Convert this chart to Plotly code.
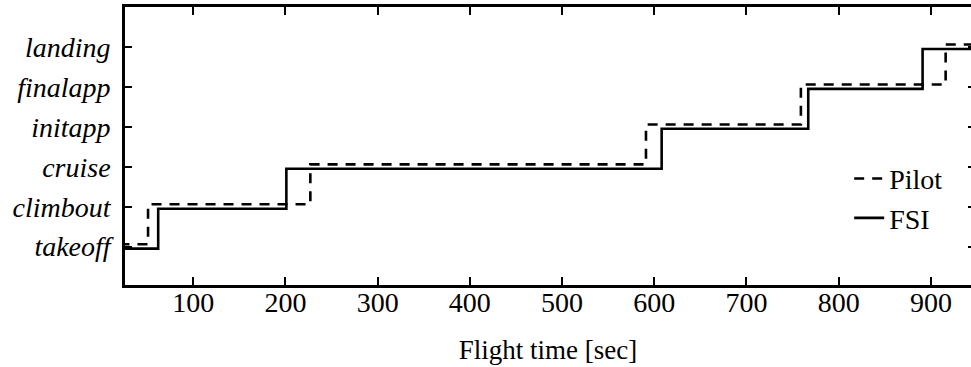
import plotly.graph_objects as go

# Flight phases (y categories, bottom to top)
phases = ["takeoff", "climbout", "cruise", "initapp", "finalapp", "landing"]

# Pilot-reported phase changes (flight time in sec, phase entered)
pilot_time = [20, 51, 227, 591, 759, 916, 980]
pilot_phase = ["takeoff", "climbout", "cruise", "initapp", "finalapp", "landing", "landing"]

# FSI-detected phase changes
fsi_time = [20, 62, 201, 608, 767, 891, 980]
fsi_phase = ["takeoff", "climbout", "cruise", "initapp", "finalapp", "landing", "landing"]

x_ticks = [100, 200, 300, 400, 500, 600, 700, 800, 900]

idx = {p: i for i, p in enumerate(phases)}
PILOT_SHIFT = 0.06   # small visual offset so overlapping steps stay distinguishable
FSI_SHIFT = -0.05

FONT = "Liberation Serif"

fig = go.Figure()
fig.add_trace(go.Scatter(
    x=pilot_time, y=[idx[p] + PILOT_SHIFT for p in pilot_phase],
    mode="lines", line_shape="hv", name="Pilot",
    line=dict(color="black", width=2.6, dash="10px,8px"),
))
fig.add_trace(go.Scatter(
    x=fsi_time, y=[idx[p] + FSI_SHIFT for p in fsi_phase],
    mode="lines", line_shape="hv", name="FSI",
    line=dict(color="black", width=2.6),
))
# invisible trace on a right-hand axis to get the short right-side ticks
fig.add_trace(go.Scatter(x=[None], y=[None], yaxis="y2", showlegend=False, hoverinfo="skip"))

fig.update_layout(
    width=971, height=367,
    margin=dict(l=125, r=0, t=7, b=82),
    paper_bgcolor="white", plot_bgcolor="white",
    font=dict(family=FONT, color="black", size=28),
    showlegend=True,
    legend=dict(x=0.856, y=0.472, xanchor="left", yanchor="top",
                bgcolor="rgba(0,0,0,0)", font=dict(size=28, family=FONT),
                tracegroupgap=0),
    xaxis=dict(range=[26, 943.5], tickvals=x_ticks, ticktext=[str(v) for v in x_ticks],
               showgrid=False, zeroline=False, showline=True, linecolor="black", linewidth=2.6,
               mirror="ticks", ticks="inside", ticklen=8, tickwidth=2, tickcolor="black",
               ticklabelstandoff=-9,
               tickfont=dict(size=28, family=FONT),
               title=dict(text="Flight time [sec]", font=dict(size=27, family=FONT), standoff=23)),
    yaxis=dict(range=[-0.96, 6.0], tickvals=list(range(len(phases))), ticktext=phases,
               showgrid=False, zeroline=False, showline=True, linecolor="black", linewidth=2.6,
               mirror=False, ticks="inside", ticklen=7, tickwidth=2, tickcolor="black",
               ticklabelstandoff=6,
               tickfont=dict(size=28, family=FONT, style="italic")),
    yaxis2=dict(range=[-0.96, 6.0], overlaying="y", side="right", tickvals=list(range(len(phases))),
                showticklabels=False, showgrid=False, zeroline=False, showline=False,
                ticks="inside", ticklen=3, tickwidth=2, tickcolor="black"),
)

fig.write_html("out.html", config={"displayModeBar": False},
               post_script="document.body.style.margin='0px';")
